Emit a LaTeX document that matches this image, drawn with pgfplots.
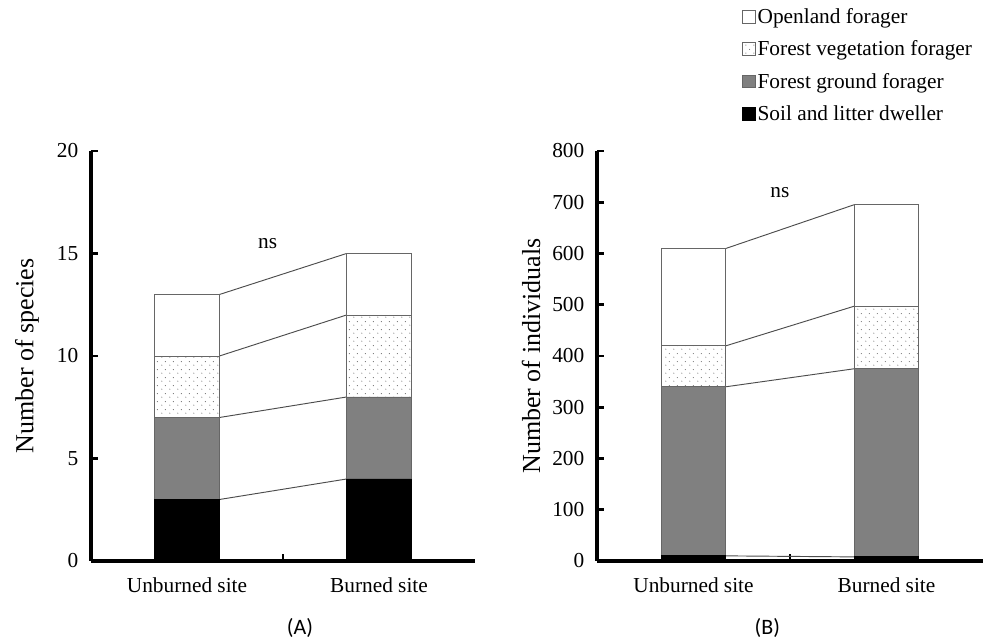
\documentclass[border=0pt]{standalone}
\usepackage{fontspec}
\setmainfont{Liberation Serif}
\newfontfamily\carlito{Carlito}
\usepackage{pgfplots}
\pgfplotsset{compat=1.18}
\usetikzlibrary{patterns}
\pgfdeclarepatternformonly{sparsedots}{\pgfpointorigin}{\pgfpoint{6pt}{6pt}}{\pgfpoint{6pt}{6pt}}{%
 \pgfpathcircle{\pgfpoint{1.5pt}{1.5pt}}{0.45pt}%
 \pgfpathcircle{\pgfpoint{4.5pt}{4.5pt}}{0.45pt}%
 \pgfusepath{fill}}

\pgfplotsset{
 panel/.style={
  scale only axis, height=307.5pt,
  xmin=0, xmax=2, ymin=0,
  axis lines=left, axis line style={-, line width=2.4pt, black},
  every outer x axis line/.append style={-, line width=2.4pt, black},
  every outer y axis line/.append style={-, line width=2.4pt, black},
  ybar stacked, bar width=48.5pt,
  tick align=inside, major tick length=5pt,
  tick style={line width=2pt, black},
  xtick={1}, xticklabels={},
  extra x ticks={0.5,1.5}, extra x tick labels={Unburned site, Burned site},
  extra x tick style={major tick length=0pt},
  xticklabel style={font=\fontsize{16}{19}\selectfont, yshift=-9pt},
  yticklabel style={font=\fontsize{16}{19}\selectfont, xshift=-6pt},
  /pgf/number format/assume math mode=true,
  ylabel style={font=\fontsize{19.5}{23}\selectfont},
  legend image code/.code={\draw[#1] (0pt,-4.75pt) rectangle (9.5pt,4.75pt);},
 },
 soil/.style={fill=black, draw=black, line width=0.6pt},
 ground/.style={fill=black!50, draw=black!60, line width=0.6pt},
 veg/.style={fill=white, draw=black!60, line width=0.6pt, postaction={pattern=sparsedots, pattern color=black!55}},
 open/.style={fill=white, draw=black!60, line width=0.6pt},
 conn/.style={sharp plot, stack plots=false, draw=black!70, line width=0.7pt, forget plot, mark=none, fill=none},
}

\begin{document}
\begin{tikzpicture}
\useasboundingbox (0,0) rectangle (737.25pt,479.25pt);

% Panel A
\begin{axis}[panel, at={(68.25pt,58.5pt)}, anchor=origin, width=288pt,
  ymax=20, ytick={0,5,10,15,20},
  ylabel={Number of species},
  ylabel style={at={(axis description cs:-0.167,0.5)}, anchor=center}]
\addplot[soil]   coordinates {(0.5,3) (1.5,4)};
\addplot[ground] coordinates {(0.5,4) (1.5,4)};
\addplot[veg]    coordinates {(0.5,3) (1.5,4)};
\addplot[open]   coordinates {(0.5,3) (1.5,3)};
\addplot[conn] coordinates {(0.669,3) (1.331,4)};
\addplot[conn] coordinates {(0.669,7) (1.331,8)};
\addplot[conn] coordinates {(0.669,10) (1.331,12)};
\addplot[conn] coordinates {(0.669,13) (1.331,15)};
\node[font=\fontsize{16}{19}\selectfont] at (axis cs:0.92,15.46) {ns};
\end{axis}

% Panel B
\begin{axis}[panel, at={(447.75pt,58.5pt)}, anchor=origin, width=289.5pt,
  ymax=800, ytick={0,100,...,800},
  ylabel={Number of individuals},
  ylabel style={at={(axis description cs:-0.171,0.5)}, anchor=center},
  reverse legend,
  legend cell align=left,
  legend style={at={(0.365,1.36)}, anchor=north west, draw=none, fill=none,
    font=\fontsize{16}{19}\selectfont, row sep=8.5pt,
    nodes={inner sep=1.5pt}}]
\addplot[soil]   coordinates {(0.5,10) (1.5,8)};
\addlegendentry{Soil and litter dweller}
\addplot[ground] coordinates {(0.5,330) (1.5,367)};
\addlegendentry{Forest ground forager}
\addplot[veg]    coordinates {(0.5,80) (1.5,122)};
\addlegendentry{Forest vegetation forager}
\addplot[open]   coordinates {(0.5,190) (1.5,198)};
\addlegendentry{Openland forager}
\addplot[conn] coordinates {(0.669,10) (1.331,8)};
\addplot[conn] coordinates {(0.669,340) (1.331,375)};
\addplot[conn] coordinates {(0.669,420) (1.331,497)};
\addplot[conn] coordinates {(0.669,610) (1.331,695)};
\node[font=\fontsize{16}{19}\selectfont] at (axis cs:0.948,718) {ns};
\end{axis}

\node[font=\carlito\fontsize{16.5}{19}\selectfont] at (225pt,8.25pt) {(A)};
\node[font=\carlito\fontsize{16.5}{19}\selectfont] at (575.5pt,8.25pt) {(B)};
\end{tikzpicture}
\end{document}
